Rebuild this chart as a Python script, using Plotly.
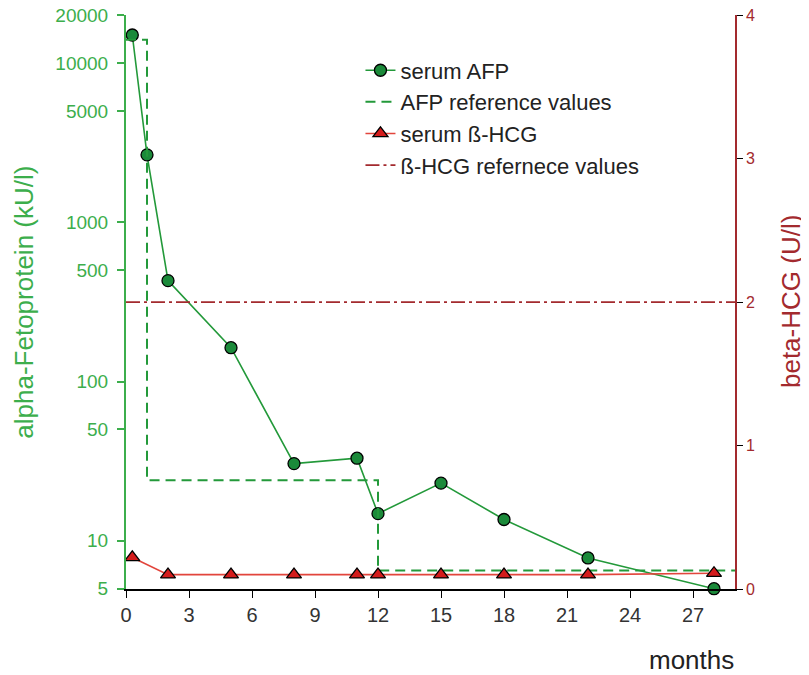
import numpy as np
import plotly.graph_objects as go

# ---- data ----
afp_months = [0.3, 1, 2, 5, 8, 11, 12, 15, 18, 22, 28]
afp_values = [15000, 2650, 430, 163, 30.5, 33, 14.8, 23, 13.6, 7.8, 5]

afp_ref_months = [0, 1, 1, 12, 12, 29]
afp_ref_values = [14000, 14000, 24, 24, 6.5, 6.5]

hcg_months = [0.3, 2, 5, 8, 11, 12, 15, 18, 22, 28]
hcg_values = [0.22, 0.1, 0.1, 0.1, 0.1, 0.1, 0.1, 0.1, 0.1, 0.11]

hcg_ref_months = [0, 29]
hcg_ref_values = [2, 2]

x_ticks = [0, 3, 6, 9, 12, 15, 18, 21, 24, 27]
y_ticks = [5, 10, 50, 100, 500, 1000, 5000, 10000, 20000]
y2_ticks = [0, 1, 2, 3, 4]

FONT = "Liberation Sans, Arial, sans-serif"
GREEN_AX = "#3cae4c"
GREEN = "#23993a"
GREEN_M = "#1b8a3a"
RED_L = "#e2453c"
RED_M = "#d41c1c"
DRED = "#a32a2e"

fig = go.Figure()

fig.add_trace(go.Scatter(
    x=afp_months, y=afp_values, name="serum AFP", mode="lines+markers",
    line=dict(color=GREEN, width=1.6),
    marker=dict(symbol="circle", size=12, color=GREEN_M, line=dict(color="black", width=1.3)),
    cliponaxis=False, yaxis="y"))

fig.add_trace(go.Scatter(
    x=afp_ref_months, y=afp_ref_values, name="AFP reference values", mode="lines",
    line=dict(color=GREEN, width=2, dash="10px,6px"),
    cliponaxis=False, yaxis="y"))

fig.add_trace(go.Scatter(
    x=hcg_months, y=hcg_values, name="serum ß-HCG", mode="lines+markers",
    line=dict(color=RED_L, width=1.6),
    marker=dict(symbol="triangle-up", size=13, color=RED_M, line=dict(color="black", width=1.3)),
    cliponaxis=False, yaxis="y2"))

fig.add_trace(go.Scatter(
    x=hcg_ref_months, y=hcg_ref_values, name="ß-HCG refernece values", mode="lines",
    line=dict(color=DRED, width=1.8, dash="14px,4px,3px,4px"),
    cliponaxis=False, yaxis="y2"))

fig.update_layout(
    width=801, height=667,
    margin=dict(l=118, r=74, t=7, b=86, autoexpand=False),
    paper_bgcolor="white", plot_bgcolor="white",
    font=dict(family=FONT, size=20, color="#333"),
    showlegend=True,
    legend=dict(x=0.385, y=0.94, xanchor="left", yanchor="top",
                font=dict(size=22, color="#222", family=FONT),
                bgcolor="rgba(0,0,0,0)", tracegroupgap=0),
    xaxis=dict(range=[0, 29], tickvals=x_ticks, ticks="outside", ticklen=7,
               tickcolor="black", tickwidth=1.3, showline=True, linecolor="black",
               linewidth=1.5, showgrid=False, zeroline=False, automargin=False,
               ticklabeloverflow="allow",
               tickfont=dict(size=20, color="#333")),
    yaxis=dict(type="log", range=[np.log10(5) - 0.002, np.log10(20000) + 0.0005],
               tickvals=y_ticks, ticktext=[str(v) for v in y_ticks],
               ticks="outside", ticklen=7, tickcolor=GREEN_AX, tickwidth=1.5,
               ticklabelstandoff=5, automargin=False, ticklabeloverflow="allow",
               showline=True, linecolor=GREEN_AX, linewidth=2, showgrid=False,
               zeroline=False, tickfont=dict(size=19, color=GREEN_AX)),
    yaxis2=dict(range=[0, 4.0005], tickvals=y2_ticks, overlaying="y", side="right",
                ticks="outside", ticklen=6, tickcolor="black", tickwidth=1.3,
                showline=True, linecolor=DRED, linewidth=1.6, showgrid=False,
                zeroline=False, automargin=False, ticklabeloverflow="allow",
                tickfont=dict(size=16, color=DRED)),
    annotations=[
        dict(text="alpha-Fetoprotein (kU/l)", xref="paper", yref="paper",
             x=-0.168, y=0.5, textangle=-90, showarrow=False,
             xanchor="center", yanchor="middle",
             font=dict(size=26, color=GREEN_AX, family=FONT)),
        dict(text="beta-HCG (U/l)", xref="paper", yref="paper",
             x=1.092, y=0.5, textangle=-90, showarrow=False,
             xanchor="center", yanchor="middle",
             font=dict(size=26, color=DRED, family=FONT)),
        dict(text="months", xref="paper", yref="paper",
             x=0.929, y=-0.124, showarrow=False,
             xanchor="center", yanchor="middle",
             font=dict(size=26, color="#222", family=FONT)),
    ],
)

fig.write_html("out.html")
